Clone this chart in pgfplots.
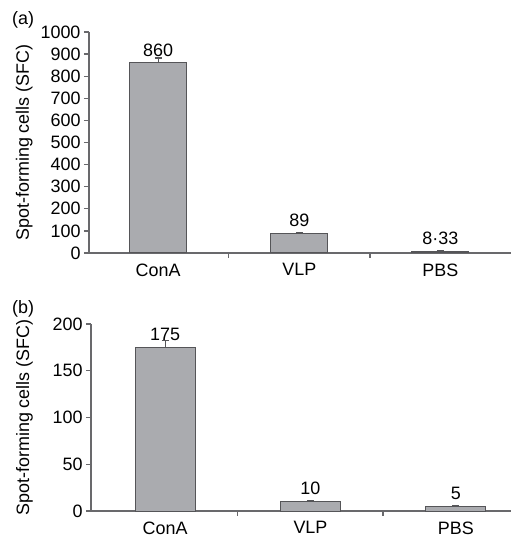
\documentclass[border=0pt]{standalone}
\usepackage{pgfplots}
\pgfplotsset{compat=1.18}
\usepackage{pgfplotstable}
\usepackage{fontspec}
\setmainfont{Liberation Sans}

\definecolor{barfill}{RGB}{170,171,175}
\definecolor{baredge}{RGB}{85,85,88}
\definecolor{axisgray}{RGB}{105,105,108}

% panel (a)
\pgfplotstableread{
x y e lab
0 860 22 860
1 89 3 89
2 8.33 2 8·33
}\spfa
% panel (b)
\pgfplotstableread{
x y e lab
0 175 7 175
1 10 1 10
2 5 1 5
}\spfb

\newcommand\fs{\fontsize{18}{21}\selectfont}

\pgfplotsset{spf/.style={
  scale only axis, anchor=south west,
  axis x line*=bottom, axis y line*=left,
  axis line style={axisgray, line width=1.3bp, -},
  ymin=0,
  xtick={0.5,1.5}, xticklabels={},
  extra x ticks={0,1,2}, extra x tick labels={ConA,VLP,PBS},
  extra x tick style={major tick length=0pt, tick style={draw=none},
    tick label style={yshift=-7bp}},
  tick align=outside, major tick length=5bp,
  tick style={axisgray, line width=1.3bp},
  ticklabel style={font=\fs, text=black},
  /pgf/number format/assume math mode=true,
  /pgf/number format/1000 sep={},
  ylabel={Spot-forming cells (SFC)},
  ylabel style={font=\fs, inner sep=0pt, anchor=south},
  ybar, bar shift=0pt,
  error bars/y dir=plus, error bars/y explicit,
  error bars/error bar style={baredge, line width=1.2bp},
  error bars/error mark options={rotate=90, mark size=3.5bp, baredge, line width=1.2bp},
  nodes near coords, point meta=explicit symbolic,
  nodes near coords style={font=\fs, inner sep=0pt, anchor=south, yshift=6bp, text=black},
  clip=false,
}}

\begin{document}
\begin{tikzpicture}
\path[use as bounding box] (0,0) rectangle (513bp,541bp);
\node[anchor=west, font=\fs, inner sep=0pt] at (12bp,521bp) {(a)};
\node[anchor=west, font=\fs, inner sep=0pt] at (12bp,232bp) {(b)};

\begin{axis}[spf, at={(89bp,288bp)}, width=422bp, height=221bp,
  xmin=-0.49, xmax=2.5, ymax=1000, ytick={0,100,...,1000},
  bar width=57bp,
  ylabel style={at={(axis description cs:-0.133,0.5)}}]
\addplot[fill=barfill, draw=baredge, line width=1bp]
  table[x=x, y=y, y error=e, meta=lab] {\spfa};
\end{axis}

\begin{axis}[spf, at={(91bp,30bp)}, width=420bp, height=187bp,
  xmin=-0.51, xmax=2.38, ymax=200, ytick={0,50,...,200},
  bar width=60bp,
  ylabel style={at={(axis description cs:-0.138,0.5)}}]
\addplot[fill=barfill, draw=baredge, line width=1bp]
  table[x=x, y=y, y error=e, meta=lab] {\spfb};
\end{axis}
\end{tikzpicture}
\end{document}
